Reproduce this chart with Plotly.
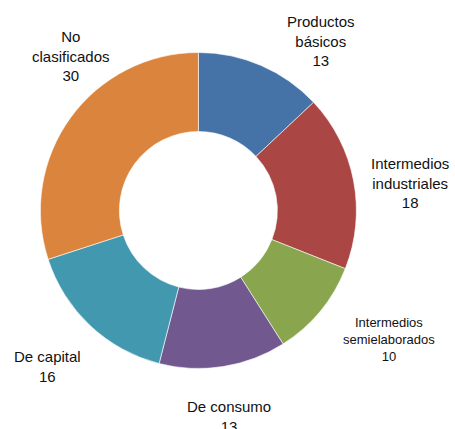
import plotly.graph_objects as go

categories = ["Productos<br>básicos", "Intermedios<br>industriales", "Intermedios<br>semielaborados",
              "De consumo", "De capital", "No<br>clasificados"]
values = [13, 18, 10, 13, 16, 30]
colors = ["#4572A7", "#AA4643", "#89A54E", "#71588F", "#4198AF", "#DB843D"]

# label placement (pixel centres) and font sizes
label_pos = [(321, 41), (410, 183), (389, 339), (229, 416), (47, 366), (71, 56)]
label_size = [15, 15, 13, 15, 15, 15]

W, H = 455, 429
cx, cy, r = 198.4, 210.5, 158

fig = go.Figure(go.Pie(
    labels=categories, values=values,
    marker=dict(colors=colors, line=dict(color="white", width=0.6)),
    hole=0.5, sort=False, direction="clockwise", rotation=0,
    textinfo="none", hoverinfo="label+value", showlegend=False,
    domain=dict(x=[(cx - r) / W, (cx + r) / W], y=[1 - (cy + r) / H, 1 - (cy - r) / H]),
))

for lab, v, (px, py), fs in zip(categories, values, label_pos, label_size):
    fig.add_annotation(
        text=f"{lab}<br>{v}", x=px / W, y=1 - py / H, xref="paper", yref="paper",
        xanchor="center", yanchor="middle", showarrow=False,
        font=dict(family="Liberation Sans, Arial, sans-serif", size=fs, color="#111111"),
    )

fig.update_layout(
    width=W, height=H, margin=dict(l=0, r=0, t=0, b=0),
    paper_bgcolor="white", plot_bgcolor="white",
)
fig.write_html("out.html", config={"displayModeBar": False},
               post_script="document.body.style.margin='0';document.body.style.overflow='hidden';")
